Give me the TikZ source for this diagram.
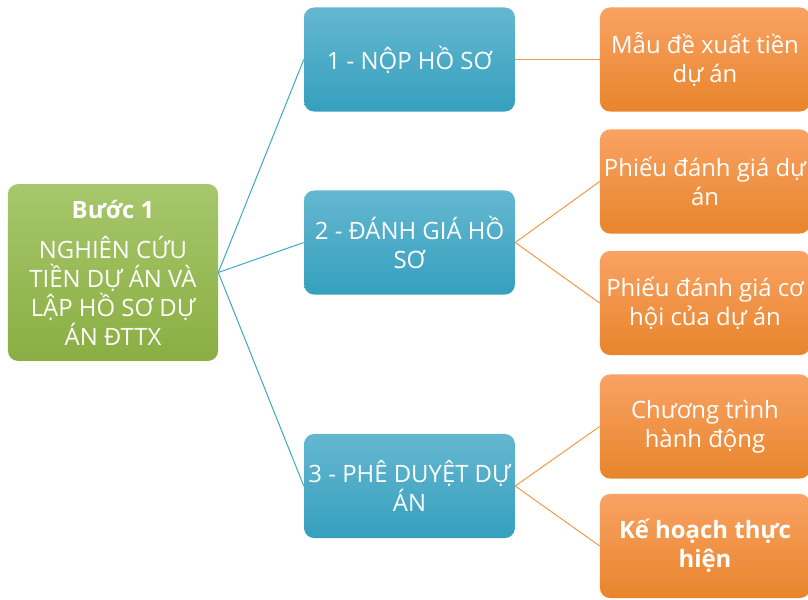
\documentclass[tikz,border=0pt]{standalone}
\usepackage{fontspec}
\setmainfont{Open Sans}
\usepackage{tikz}
\usetikzlibrary{positioning}

\definecolor{greentop}{HTML}{A7C76C}
\definecolor{greenbot}{HTML}{8AAE42}
\definecolor{bluetop}{HTML}{65B7D0}
\definecolor{bluebot}{HTML}{35A0BE}
\definecolor{orangetop}{HTML}{F9A263}
\definecolor{orangebot}{HTML}{E8852C}
\definecolor{blueline}{HTML}{3FA6C4}
\definecolor{orangeline}{HTML}{F79646}

\begin{document}
\begin{tikzpicture}[
        x=0.025cm, y=-0.025cm,
        box/.style={rectangle, rounded corners=0.25cm, align=center, text=white,
            font=\fontsize{17}{20.6}\selectfont, inner sep=2pt},
        stepbox/.style={box, top color=greentop, bottom color=greenbot,
            minimum width=5.25cm, minimum height=4.42cm},
        taskbox/.style={box, top color=bluetop, bottom color=bluebot,
            minimum width=5.27cm, minimum height=2.6cm},
        docbox/.style={box, top color=orangetop, bottom color=orangebot,
            minimum width=5.25cm, minimum height=2.6cm},
        bline/.style={draw=blueline, line width=0.7pt},
        oline/.style={draw=orangeline, line width=0.7pt}
    ]
    \useasboundingbox (0,0) rectangle (808,599);

    % buoc 1
    \node (step) [stepbox] at (113,272.5)
        {\textbf{Bước 1}\\[8pt]NGHIÊN CỨU\\TIỀN DỰ ÁN VÀ\\LẬP HỒ SƠ DỰ\\ÁN ĐTTX};

    % cac buoc con
    \node (nop) [taskbox] at (409.5,59.5) {1 - NỘP HỒ SƠ};
    \node (danhgia) [taskbox] at (409.5,242.5) {2 - ĐÁNH GIÁ HỒ\\SƠ};
    \node (pheduyet) [taskbox] at (409.5,486) {3 - PHÊ DUYỆT DỰ\\ÁN};

    % tai lieu
    \node (mau) [docbox] at (705,59.5) {Mẫu đề xuất tiền\\dự án};
    \node (phieuda) [docbox] at (705,181.5) {Phiếu đánh giá dự\\án};
    \node (phieuch) [docbox] at (705,303) {Phiếu đánh giá cơ\\hội của dự án};
    \node (chuongtrinh) [docbox] at (705,426.5) {Chương trình\\hành động};
    \node (kehoach) [docbox] at (705,546) {\textbf{Kế hoạch thực}\\\textbf{hiện}};

    \draw[bline] (step.east) -- (nop.west);
    \draw[bline] (step.east) -- (danhgia.west);
    \draw[bline] (step.east) -- (pheduyet.west);

    \draw[oline] (nop.east) -- (mau.west);
    \draw[oline] (danhgia.east) -- (phieuda.west);
    \draw[oline] (danhgia.east) -- (phieuch.west);
    \draw[oline] (pheduyet.east) -- (chuongtrinh.west);
    \draw[oline] (pheduyet.east) -- (kehoach.west);

\end{tikzpicture}
\end{document}
